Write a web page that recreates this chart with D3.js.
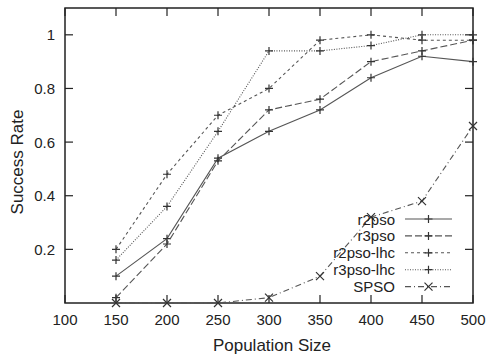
<!DOCTYPE html>
<html>
<head>
<meta charset="utf-8">
<script src="https://cdn.jsdelivr.net/npm/d3@7"></script>
<style>
  body { margin: 0; background: #fff; }
  svg text { font-family: "Liberation Sans", Arial, Helvetica, sans-serif; fill: #222; }
</style>
</head>
<body>
<svg id="chart" width="487" height="355"></svg>
<script>
// population sizes on the x axis
const popSizes = [150, 200, 250, 300, 350, 400, 450, 500];

// success rate per algorithm
const r2pso    = [0.10, 0.24, 0.54, 0.64, 0.72, 0.84, 0.92, 0.90];
const r3pso    = [0.02, 0.22, 0.53, 0.72, 0.76, 0.90, 0.94, 0.98];
const r2psoLhc = [0.20, 0.48, 0.70, 0.80, 0.98, 1.00, 0.98, 0.98];
const r3psoLhc = [0.16, 0.36, 0.64, 0.94, 0.94, 0.96, 1.00, 1.00];
const spso     = [0.00, 0.00, 0.00, 0.02, 0.10, 0.32, 0.38, 0.66];

const xTicks = [100, 150, 200, 250, 300, 350, 400, 450, 500];
const yTicks = [0.2, 0.4, 0.6, 0.8, 1];

const series = [
  { name: "r2pso",     values: r2pso,    dash: null,      marker: "plus" },
  { name: "r3pso",     values: r3pso,    dash: "7,3",     marker: "plus" },
  { name: "r2pso-lhc", values: r2psoLhc, dash: "3,3",     marker: "plus" },
  { name: "r3pso-lhc", values: r3psoLhc, dash: "1,1.5",   marker: "plus" },
  { name: "SPSO",      values: spso,     dash: "6,3,1,3", marker: "cross" }
];

const svg = d3.select("#chart");
const margin = { left: 65, right: 14, top: 8, bottom: 52 };
const W = 487, H = 355;

const x = d3.scaleLinear().domain([100, 500]).range([margin.left, W - margin.right]);
const y = d3.scaleLinear().domain([0, 1.1]).range([H - margin.bottom, margin.top]);

const lineColor = "#555";
const tickLen = 8;

// ticks on all four sides (pointing inward)
const g = svg.append("g");
xTicks.forEach(t => {
  g.append("line").attr("x1", x(t)).attr("x2", x(t))
    .attr("y1", y(0)).attr("y2", y(0) - tickLen).attr("stroke", "#222").attr("stroke-width", 1.2);
  g.append("line").attr("x1", x(t)).attr("x2", x(t))
    .attr("y1", y(1.1)).attr("y2", y(1.1) + tickLen).attr("stroke", "#222").attr("stroke-width", 1.2);
  g.append("text").attr("x", x(t)).attr("y", y(0) + 22)
    .attr("text-anchor", "middle").attr("font-size", 15).text(t);
});
yTicks.forEach(t => {
  g.append("line").attr("x1", x(100)).attr("x2", x(100) + tickLen)
    .attr("y1", y(t)).attr("y2", y(t)).attr("stroke", "#222").attr("stroke-width", 1.2);
  g.append("line").attr("x1", x(500)).attr("x2", x(500) - tickLen)
    .attr("y1", y(t)).attr("y2", y(t)).attr("stroke", "#222").attr("stroke-width", 1.2);
  g.append("text").attr("x", x(100) - 10).attr("y", y(t) + 5.5)
    .attr("text-anchor", "end").attr("font-size", 15).text(t);
});

// frame
svg.append("rect")
  .attr("x", x(100)).attr("y", y(1.1))
  .attr("width", x(500) - x(100)).attr("height", y(0) - y(1.1))
  .attr("fill", "none").attr("stroke", "#222").attr("stroke-width", 1.5);

function drawMarker(sel, type, cx, cy) {
  const s = 4;
  if (type === "plus") {
    sel.append("path").attr("d", `M${cx - s},${cy}H${cx + s}M${cx},${cy - s}V${cy + s}`)
      .attr("stroke", "#333").attr("stroke-width", 1.2).attr("fill", "none");
  } else {
    sel.append("path").attr("d", `M${cx - s},${cy - s}L${cx + s},${cy + s}M${cx - s},${cy + s}L${cx + s},${cy - s}`)
      .attr("stroke", "#333").attr("stroke-width", 1.2).attr("fill", "none");
  }
}

const line = d3.line().x(d => x(d[0])).y(d => y(d[1]));

series.forEach(s => {
  const pts = popSizes.map((p, i) => [p, s.values[i]]);
  svg.append("path").datum(pts)
    .attr("d", line)
    .attr("fill", "none")
    .attr("stroke", lineColor)
    .attr("stroke-width", 1.1)
    .attr("stroke-dasharray", s.dash);
  const mg = svg.append("g");
  pts.forEach(p => drawMarker(mg, s.marker, x(p[0]), y(p[1])));
});

// legend
const leg = svg.append("g");
const legY0 = 219, legStep = 16.9;
series.forEach((s, i) => {
  const ly = legY0 + i * legStep;
  leg.append("text").attr("x", 395).attr("y", ly + 5.5)
    .attr("text-anchor", "end").attr("font-size", 15).text(s.name);
  leg.append("line").attr("x1", 405).attr("x2", 452).attr("y1", ly).attr("y2", ly)
    .attr("stroke", lineColor).attr("stroke-width", 1.1).attr("stroke-dasharray", s.dash);
  drawMarker(leg, s.marker, 428.5, ly);
});

// axis titles
svg.append("text").attr("x", 272).attr("y", 351)
  .attr("text-anchor", "middle").attr("font-size", 17).text("Population Size");
svg.append("text")
  .attr("transform", `translate(22.5,162) rotate(-90)`)
  .attr("text-anchor", "middle").attr("font-size", 17).text("Success Rate");
</script>
</body>
</html>
